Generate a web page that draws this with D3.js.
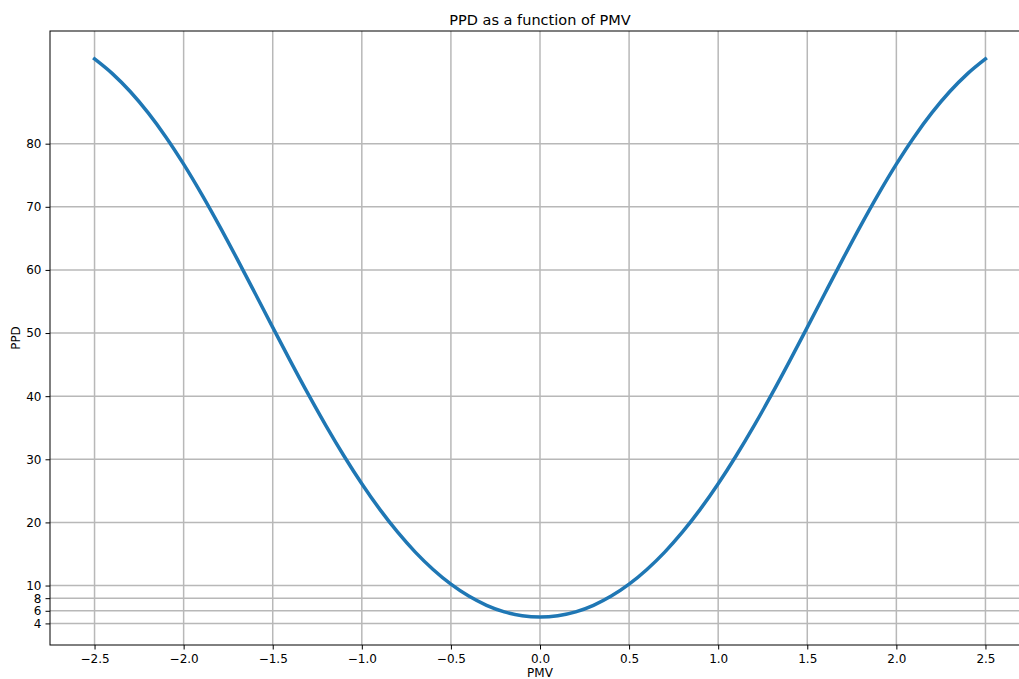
<!DOCTYPE html>
<html>
<head>
<meta charset="utf-8">
<script src="https://cdn.jsdelivr.net/npm/d3@7"></script>
<style>
  html, body { margin: 0; padding: 0; background: #fff; overflow: hidden; }
  svg { display: block; font-family: "DejaVu Sans", sans-serif; }
</style>
</head>
<body>
<svg id="chart" width="1019" height="679"></svg>
<script>
// PMV samples and the corresponding PPD (%) values
const pmv = [-2.5, -2.4, -2.3, -2.2, -2.1, -2.0, -1.9, -1.8, -1.7, -1.6, -1.5, -1.4, -1.3, -1.2, -1.1,
  -1.0, -0.9, -0.8, -0.7, -0.6, -0.5, -0.4, -0.3, -0.2, -0.1, 0.0,
  0.1, 0.2, 0.3, 0.4, 0.5, 0.6, 0.7, 0.8, 0.9, 1.0, 1.1, 1.2, 1.3, 1.4, 1.5,
  1.6, 1.7, 1.8, 1.9, 2.0, 2.1, 2.2, 2.3, 2.4, 2.5];
const ppd = [93.43, 91.10, 88.26, 84.91, 81.07, 76.76, 72.05, 67.02, 61.75, 56.35, 50.90, 45.51, 40.27, 35.25, 30.52,
  26.12, 22.10, 18.49, 15.30, 12.55, 10.22, 8.33, 6.87, 5.83, 5.21, 5.00,
  5.21, 5.83, 6.87, 8.33, 10.22, 12.55, 15.30, 18.49, 22.10, 26.12, 30.52, 35.25, 40.27, 45.51, 50.90,
  56.35, 61.75, 67.02, 72.05, 76.76, 81.07, 84.91, 88.26, 91.10, 93.43];

const xTicks = [-2.5, -2.0, -1.5, -1.0, -0.5, 0.0, 0.5, 1.0, 1.5, 2.0, 2.5];
const yTicks = [4, 6, 8, 10, 20, 30, 40, 50, 60, 70, 80];

const xDomain = [-2.75, 2.75];
const yDomain = [0.58, 97.85];

const svg = d3.select("#chart");
const plot = { left: 50, right: 1030, top: 31, bottom: 645 };

const x = d3.scaleLinear().domain(xDomain).range([plot.left, plot.right]);
const y = d3.scaleLinear().domain(yDomain).range([plot.bottom, plot.top]);

const data = pmv.map((v, i) => ({ pmv: v, ppd: ppd[i] }));

// grid
const grid = svg.append("g");
grid.selectAll("line.gx").data(xTicks).enter().append("line")
  .attr("x1", d => x(d)).attr("x2", d => x(d))
  .attr("y1", plot.top).attr("y2", plot.bottom)
  .attr("stroke", "#b8b8b8").attr("stroke-width", 1.5);
grid.selectAll("line.gy").data(yTicks).enter().append("line")
  .attr("x1", plot.left).attr("x2", plot.right)
  .attr("y1", d => y(d)).attr("y2", d => y(d))
  .attr("stroke", "#b8b8b8").attr("stroke-width", 1.5);

// curve
const line = d3.line()
  .x(d => x(d.pmv))
  .y(d => y(d.ppd))
  .curve(d3.curveMonotoneX);
svg.append("path")
  .datum(data)
  .attr("d", line)
  .attr("fill", "none")
  .attr("stroke", "#1f77b4")
  .attr("stroke-width", 3.5)
  .attr("stroke-linecap", "square");

// axes
const xAxis = d3.axisBottom(x).tickValues(xTicks).tickSize(4.5).tickPadding(5)
  .tickFormat(d => d3.format(".1f")(d).replace("-", "\u2212"));
const yAxis = d3.axisLeft(y).tickValues(yTicks).tickSize(4.5).tickPadding(4)
  .tickFormat(d3.format("d"));

const gx = svg.append("g").attr("transform", `translate(0,${plot.bottom})`).call(xAxis);
const gy = svg.append("g").attr("transform", `translate(${plot.left},0)`).call(yAxis);
[gx, gy].forEach(g => {
  g.selectAll("text").attr("font-size", 12).attr("fill", "#000")
    .attr("font-family", "DejaVu Sans, sans-serif");
  g.selectAll("line").attr("stroke", "#000").attr("stroke-width", 1);
  g.select(".domain").remove();
});

// frame
svg.append("rect")
  .attr("x", plot.left).attr("y", plot.top)
  .attr("width", plot.right - plot.left).attr("height", plot.bottom - plot.top)
  .attr("fill", "none").attr("stroke", "#000").attr("stroke-width", 1);

// labels
svg.append("text")
  .attr("x", (plot.left + plot.right) / 2).attr("y", 25)
  .attr("text-anchor", "middle").attr("font-size", 14.5)
  .text("PPD as a function of PMV");
svg.append("text")
  .attr("x", (plot.left + plot.right) / 2).attr("y", 677)
  .attr("text-anchor", "middle").attr("font-size", 12)
  .text("PMV");
svg.append("text")
  .attr("transform", `translate(20,${(plot.top + plot.bottom) / 2}) rotate(-90)`)
  .attr("text-anchor", "middle").attr("font-size", 12)
  .text("PPD");
</script>
</body>
</html>
